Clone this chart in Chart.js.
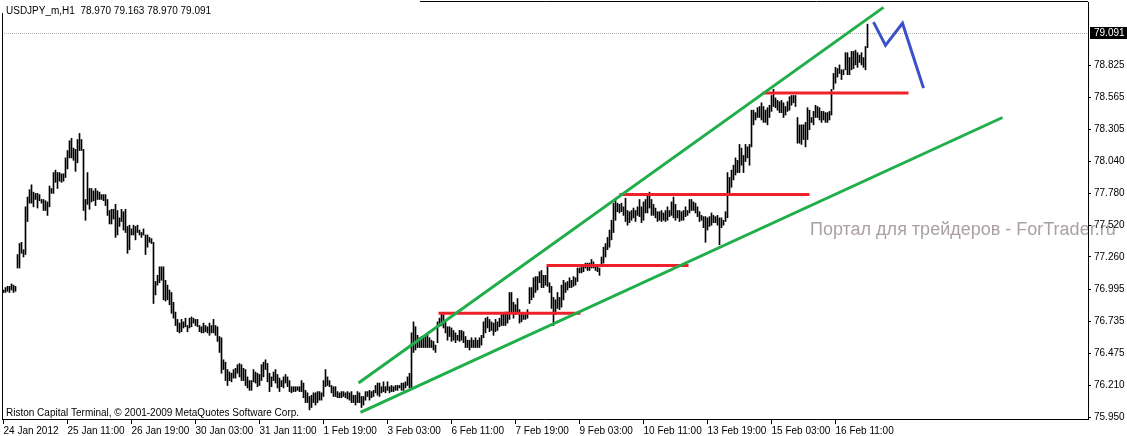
<!DOCTYPE html>
<html>
<head>
<meta charset="utf-8">
<script src="https://cdn.jsdelivr.net/npm/chart.js@4.4.1/dist/chart.umd.min.js"></script>
<style>
html, body { margin: 0; padding: 0; background: #fff; }
</style>
</head>
<body>
<canvas id="chartBars" width="1127" height="436"></canvas>
<script>
var symbolTitle = "USDJPY_m,H1  78.970 79.163 78.970 79.091";
var copyrightText = "Riston Capital Terminal, \u00a9 2001-2009 MetaQuotes Software Corp.";
var watermarkText = "Портал для трейдеров - ForTrader.ru";
var lastPrice = 79.091;

// H1 bars, one per hour, high / low
var barHigh = [
    76.99, 77.01, 77.02, 77.02, 77.04, 77.03, 77.02, 77.28, 77.37, 77.38,
    77.32, 77.67, 77.75, 77.81, 77.85, 77.79, 77.78, 77.78, 77.77, 77.73,
    77.73, 77.72, 77.71, 77.84, 77.82, 77.95, 77.97, 77.95, 77.95, 77.94,
    77.94, 78.07, 78.13, 78.21, 78.23, 78.15, 78.14, 78.22, 78.27, 78.22,
    78.14, 77.73, 77.95, 77.82, 77.82, 77.80, 77.82, 77.80, 77.79, 77.77,
    77.77, 77.77, 77.73, 77.64, 77.65, 77.65, 77.69, 77.64, 77.58, 77.65,
    77.63, 77.65, 77.51, 77.52, 77.49, 77.52, 77.51, 77.52, 77.48, 77.46,
    77.49, 77.44, 77.44, 77.42, 77.41, 77.38, 77.06, 77.11, 77.18, 77.18,
    77.18, 77.07, 77.03, 76.99, 76.97, 76.89, 76.81, 76.75, 76.72, 76.75,
    76.73, 76.76, 76.70, 76.76, 76.77, 76.76, 76.75, 76.75, 76.70, 76.69,
    76.72, 76.70, 76.69, 76.72, 76.70, 76.75, 76.70, 76.69, 76.61, 76.60,
    76.42, 76.40, 76.34, 76.32, 76.31, 76.34, 76.35, 76.38, 76.39, 76.38,
    76.35, 76.34, 76.28, 76.25, 76.25, 76.34, 76.32, 76.31, 76.30, 76.38,
    76.40, 76.42, 76.39, 76.31, 76.28, 76.32, 76.34, 76.30, 76.27, 76.25,
    76.28, 76.30, 76.28, 76.25, 76.20, 76.20, 76.20, 76.20, 76.20, 76.25,
    76.23, 76.17, 76.15, 76.12, 76.13, 76.15, 76.15, 76.16, 76.16, 76.15,
    76.25, 76.34, 76.28, 76.25, 76.21, 76.20, 76.20, 76.16, 76.15, 76.16,
    76.16, 76.15, 76.16, 76.15, 76.16, 76.13, 76.13, 76.16, 76.15, 76.12,
    76.12, 76.16, 76.16, 76.17, 76.16, 76.17, 76.21, 76.23, 76.23, 76.20,
    76.24, 76.20, 76.24, 76.20, 76.21, 76.20, 76.21, 76.21, 76.21, 76.23,
    76.23, 76.24, 76.28, 76.31, 76.64, 76.73, 76.69, 76.62, 76.60, 76.61,
    76.61, 76.61, 76.62, 76.60, 76.58, 76.57, 76.54, 76.73, 76.76, 76.80,
    76.79, 76.73, 76.69, 76.69, 76.68, 76.66, 76.64, 76.62, 76.66, 76.66,
    76.65, 76.61, 76.58, 76.58, 76.60, 76.58, 76.60, 76.58, 76.60, 76.62,
    76.73, 76.76, 76.77, 76.75, 76.73, 76.72, 76.75, 76.73, 76.76, 76.79,
    76.80, 76.81, 76.81, 76.97, 76.97, 76.89, 76.87, 76.92, 76.83, 76.79,
    76.80, 76.79, 76.83, 77.01, 77.01, 77.09, 77.10, 77.10, 77.14, 77.15,
    77.11, 77.11, 77.18, 77.05, 77.02, 76.93, 76.91, 76.97, 76.93, 77.03,
    77.07, 77.05, 77.06, 77.09, 77.07, 77.10, 77.09, 77.17, 77.17, 77.20,
    77.18, 77.21, 77.21, 77.21, 77.24, 77.22, 77.20, 77.18, 77.17, 77.26,
    77.34, 77.37, 77.42, 77.48, 77.56, 77.70, 77.74, 77.70, 77.69, 77.70,
    77.67, 77.74, 77.64, 77.63, 77.64, 77.66, 77.64, 77.67, 77.73, 77.67,
    77.71, 77.73, 77.77, 77.79, 77.73, 77.69, 77.66, 77.63, 77.63, 77.64,
    77.62, 77.64, 77.67, 77.64, 77.71, 77.75, 77.69, 77.64, 77.64, 77.63,
    77.64, 77.67, 77.64, 77.73, 77.73, 77.71, 77.70, 77.67, 77.63, 77.60,
    77.59, 77.59, 77.58, 77.59, 77.62, 77.60, 77.59, 77.60, 77.58, 77.58,
    77.56, 77.63, 77.95, 77.91, 77.97, 78.01, 78.07, 78.05, 78.18, 78.15,
    78.09, 78.18, 78.16, 78.18, 78.46, 78.46, 78.44, 78.48, 78.49, 78.52,
    78.49, 78.46, 78.48, 78.50, 78.58, 78.63, 78.56, 78.54, 78.53, 78.54,
    78.52, 78.49, 78.53, 78.57, 78.58, 78.58, 78.58, 78.40, 78.34, 78.34,
    78.34, 78.36, 78.48, 78.46, 78.40, 78.45, 78.50, 78.49, 78.48, 78.45,
    78.45, 78.44, 78.44, 78.45, 78.63, 78.76, 78.81, 78.80, 78.83, 78.79,
    78.79, 78.93, 78.93, 78.89, 78.94, 78.94, 78.95, 78.93, 78.91, 78.93,
    78.89, 78.98, 79.163
];
var barLow = [
    76.97, 76.97, 76.98, 76.97, 76.99, 76.97, 76.98, 77.17, 77.17, 77.29,
    77.26, 77.28, 77.55, 77.70, 77.70, 77.67, 77.73, 77.66, 77.72, 77.70,
    77.64, 77.64, 77.60, 77.67, 77.78, 77.78, 77.87, 77.82, 77.88, 77.87,
    77.88, 77.91, 77.98, 78.07, 78.07, 78.05, 77.96, 78.03, 78.13, 78.13,
    77.64, 77.56, 77.69, 77.65, 77.71, 77.72, 77.68, 77.73, 77.73, 77.73,
    77.72, 77.68, 77.60, 77.53, 77.53, 77.57, 77.42, 77.44, 77.51, 77.55,
    77.48, 77.46, 77.29, 77.32, 77.44, 77.44, 77.40, 77.46, 77.44, 77.42,
    77.44, 77.28, 77.34, 77.38, 77.37, 76.88, 76.95, 77.03, 77.05, 77.07,
    76.91, 76.90, 76.91, 76.87, 76.80, 76.76, 76.70, 76.65, 76.64, 76.65,
    76.68, 76.69, 76.65, 76.68, 76.69, 76.72, 76.70, 76.69, 76.65, 76.64,
    76.64, 76.65, 76.64, 76.62, 76.64, 76.64, 76.62, 76.57, 76.48, 76.31,
    76.34, 76.25, 76.21, 76.25, 76.24, 76.27, 76.27, 76.31, 76.28, 76.25,
    76.25, 76.21, 76.19, 76.17, 76.17, 76.24, 76.23, 76.20, 76.21, 76.25,
    76.28, 76.34, 76.24, 76.16, 76.20, 76.25, 76.23, 76.19, 76.16, 76.20,
    76.19, 76.23, 76.20, 76.16, 76.15, 76.16, 76.16, 76.17, 76.16, 76.16,
    76.11, 76.07, 76.07, 76.01, 76.03, 76.07, 76.05, 76.07, 76.09, 76.09,
    76.12, 76.20, 76.21, 76.20, 76.15, 76.12, 76.12, 76.11, 76.11, 76.11,
    76.12, 76.11, 76.10, 76.09, 76.07, 76.07, 76.05, 76.07, 76.07, 76.03,
    76.05, 76.09, 76.12, 76.09, 76.11, 76.12, 76.15, 76.13, 76.12, 76.15,
    76.16, 76.15, 76.17, 76.15, 76.16, 76.16, 76.17, 76.17, 76.19, 76.17,
    76.17, 76.19, 76.21, 76.19, 76.19, 76.48, 76.50, 76.52, 76.52, 76.52,
    76.52, 76.52, 76.52, 76.52, 76.52, 76.50, 76.48, 76.56, 76.69, 76.70,
    76.68, 76.64, 76.58, 76.61, 76.57, 76.58, 76.56, 76.58, 76.57, 76.58,
    76.56, 76.52, 76.52, 76.50, 76.52, 76.52, 76.52, 76.52, 76.52, 76.54,
    76.60, 76.64, 76.68, 76.65, 76.66, 76.62, 76.65, 76.66, 76.69, 76.70,
    76.70, 76.70, 76.72, 76.75, 76.81, 76.76, 76.79, 76.81, 76.72, 76.73,
    76.75, 76.75, 76.76, 76.88, 76.91, 76.93, 76.97, 76.99, 77.05, 77.01,
    77.01, 77.03, 77.02, 76.97, 76.84, 76.70, 76.79, 76.84, 76.83, 76.85,
    76.91, 76.97, 76.99, 77.01, 77.01, 77.02, 77.03, 77.06, 77.13, 77.13,
    77.14, 77.17, 77.15, 77.15, 77.17, 77.17, 77.15, 77.14, 77.11, 77.18,
    77.21, 77.26, 77.32, 77.34, 77.40, 77.46, 77.56, 77.63, 77.62, 77.63,
    77.60, 77.55, 77.52, 77.54, 77.56, 77.58, 77.55, 77.60, 77.59, 77.54,
    77.56, 77.62, 77.62, 77.66, 77.60, 77.60, 77.58, 77.55, 77.56, 77.55,
    77.56, 77.55, 77.56, 77.59, 77.60, 77.58, 77.56, 77.58, 77.55, 77.56,
    77.56, 77.59, 77.60, 77.62, 77.64, 77.64, 77.62, 77.59, 77.55, 77.56,
    77.50, 77.38, 77.48, 77.51, 77.52, 77.54, 77.54, 77.52, 77.36, 77.50,
    77.52, 77.55, 77.58, 77.78, 77.83, 77.89, 77.93, 77.95, 77.95, 78.01,
    77.95, 78.04, 78.07, 78.01, 78.16, 78.34, 78.38, 78.40, 78.40, 78.38,
    78.36, 78.36, 78.34, 78.40, 78.45, 78.49, 78.48, 78.46, 78.44, 78.44,
    78.40, 78.42, 78.45, 78.46, 78.50, 78.52, 78.49, 78.19, 78.19, 78.18,
    78.22, 78.16, 78.22, 78.30, 78.36, 78.34, 78.40, 78.40, 78.38, 78.36,
    78.38, 78.36, 78.36, 78.38, 78.42, 78.63, 78.68, 78.73, 78.76, 78.71,
    78.75, 78.79, 78.75, 78.75, 78.79, 78.80, 78.83, 78.81, 78.85, 78.83,
    78.81, 78.79, 78.97
];

// time axis: a label every 32 bars
var xTickPos = [0, 32, 64, 96, 128, 160, 192, 224, 256, 288, 320, 352, 384, 416];
var xTickLabels = [
    "24 Jan 2012", "25 Jan 11:00", "26 Jan 19:00", "30 Jan 03:00", "31 Jan 11:00",
    "1 Feb 19:00", "3 Feb 03:00", "6 Feb 11:00", "7 Feb 19:00", "9 Feb 03:00",
    "10 Feb 11:00", "13 Feb 19:00", "15 Feb 03:00", "16 Feb 11:00"
];
var yTickValues = [75.950, 76.210, 76.475, 76.735, 76.995, 77.260, 77.520, 77.780, 78.040, 78.305, 78.565, 78.825];

// drawn objects (bar index, price)
var upperChannelX = [177.5, 440];
var upperChannelY = [76.23, 79.30];
var lowerChannelX = [178.5, 499.5];
var lowerChannelY = [75.99, 78.40];
var levelStart = [217.5, 271.5, 308, 379.5];
var levelEnd = [288.5, 342.5, 403, 452.5];
var levelPrice = [76.80, 77.19, 77.77, 78.60];
var forecastX = [435, 441, 449.5, 460];
var forecastY = [79.18, 78.99, 79.17, 78.64];

Chart.defaults.font.family = '"Liberation Sans", Arial, sans-serif';
Chart.defaults.font.size = 10;
Chart.defaults.color = "#000";

function pts(xs, ys) {
    return xs.map(function (x, k) { return { x: x, y: ys[k] }; });
}

function lineSet(data, color) {
    return {
        type: "line",
        data: data,
        borderColor: color,
        borderWidth: 3,
        pointRadius: 0,
        tension: 0,
        fill: false,
        order: 0,
    };
}

var datasets = [{
    type: "bar",
    data: barHigh.map(function (h, i) { return { x: i, y: [barLow[i], h] }; }),
    backgroundColor: "#000",
    borderWidth: 0,
    barThickness: 1,
    order: 10,
}];
datasets.push(lineSet(pts(upperChannelX, upperChannelY), "#1fae4a"));
datasets.push(lineSet(pts(lowerChannelX, lowerChannelY), "#1fae4a"));
for (var k = 0; k < levelPrice.length; k++) {
    datasets.push(lineSet(pts([levelStart[k], levelEnd[k]], [levelPrice[k], levelPrice[k]]), "#f0202a"));
}
datasets.push(lineSet(pts(forecastX, forecastY), "#3c50c8"));

var overlay = {
    id: "overlay",
    beforeDraw: function (chart) {
        var c = chart.ctx;
        c.save();
        c.fillStyle = "#fff";
        c.fillRect(0, 0, chart.width, chart.height);
        c.font = '18px "Liberation Sans", Arial, sans-serif';
        c.fillStyle = "#aaa0a0";
        c.textBaseline = "middle";
        c.fillText(watermarkText, 810, 230);
        c.restore();
    },
    beforeDatasetsDraw: function (chart) {
        var c = chart.ctx, a = chart.chartArea;
        var y = Math.round(chart.scales.y.getPixelForValue(lastPrice)) + 0.5;
        c.save();
        c.strokeStyle = "#b4b4b4";
        c.lineWidth = 1;
        c.setLineDash([1, 1]);
        c.beginPath();
        c.moveTo(a.left, y);
        c.lineTo(a.right, y);
        c.stroke();
        c.restore();
    },
    afterDraw: function (chart) {
        var c = chart.ctx, a = chart.chartArea;
        c.save();
        c.strokeStyle = "#000";
        c.lineWidth = 1;
        c.beginPath();
        c.moveTo(a.left + 0.5, a.bottom);
        c.lineTo(a.left + 0.5, a.top - 0.5);
        c.lineTo(a.right, a.top - 0.5);
        c.stroke();

        c.fillStyle = "#fff";
        c.fillRect(0, 0, 420, 13);
        c.fillStyle = "#000";
        c.font = '10px "Liberation Sans", Arial, sans-serif';
        c.textBaseline = "alphabetic";
        c.fillText(symbolTitle, 6, 14);
        c.fillText(copyrightText, 6, 416);

        var y = Math.round(chart.scales.y.getPixelForValue(lastPrice));
        c.fillStyle = "#000";
        c.fillRect(a.right + 2, y - 6, 39, 12);
        c.fillStyle = "#fff";
        c.textBaseline = "middle";
        c.fillText(lastPrice.toFixed(3), a.right + 6, y + 0.5);
        c.restore();
    },
};

var ctxBars = document.getElementById("chartBars").getContext("2d");
var chart1 = new Chart(ctxBars, {
    type: "bar",
    data: { datasets: datasets },
    plugins: [overlay],
    options: {
        responsive: false,
        animation: false,
        devicePixelRatio: 1,
        layout: { padding: { left: 2, top: 2, right: 0, bottom: 0 } },
        plugins: { legend: { display: false }, tooltip: { enabled: false } },
        scales: {
            x: {
                type: "linear",
                position: "bottom",
                offset: false,
                min: -0.75,
                max: 542.25,
                afterBuildTicks: function (s) {
                    s.ticks = xTickPos.map(function (v) { return { value: v }; });
                },
                afterFit: function (s) {
                    s.height = 17;
                    s.paddingLeft = 0;
                    s.paddingRight = 0;
                },
                grid: { drawOnChartArea: false, drawTicks: true, tickLength: 5, color: "#000", offset: false },
                border: { color: "#000" },
                ticks: {
                    align: "start",
                    padding: 1,
                    autoSkip: false,
                    maxRotation: 0,
                    callback: function (v, i) { return xTickLabels[i]; },
                },
            },
            y: {
                type: "linear",
                position: "right",
                min: 75.936,
                max: 79.344,
                afterBuildTicks: function (s) {
                    s.ticks = yTickValues.map(function (v) { return { value: v }; });
                },
                afterFit: function (s) {
                    s.width = 39;
                    s.paddingTop = 0;
                    s.paddingBottom = 0;
                },
                grid: { drawOnChartArea: false, drawTicks: true, tickLength: 3, color: "#000" },
                border: { color: "#000" },
                ticks: {
                    padding: 3,
                    callback: function (v) { return Number(v).toFixed(3); },
                },
            },
        },
    },
});
</script>
</body>
</html>
